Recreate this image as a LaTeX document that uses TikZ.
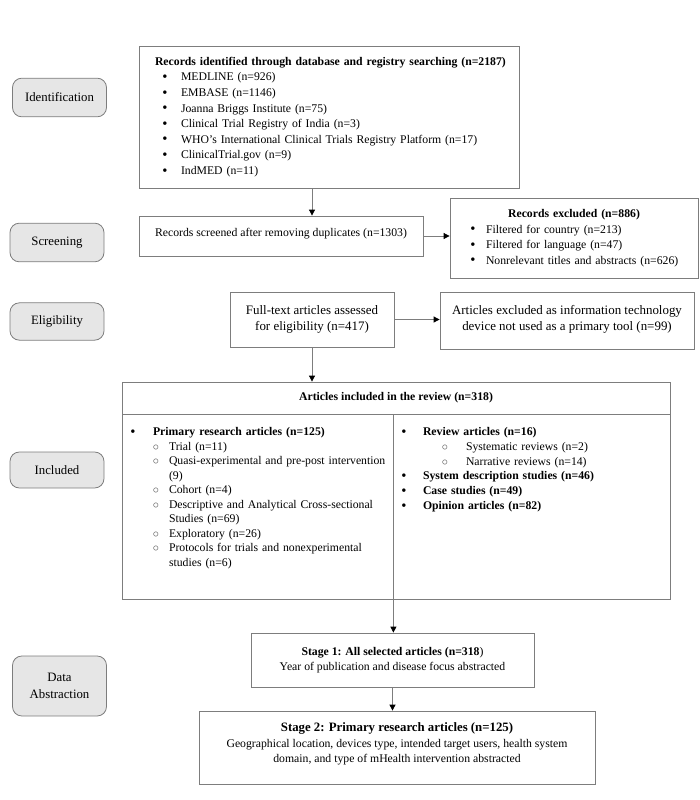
\documentclass[tikz,border=0pt]{standalone}
\usepackage{fontspec}
\setmainfont{Liberation Serif}
\usetikzlibrary{arrows.meta}
\definecolor{stagefill}{RGB}{230,230,230}
\definecolor{boxline}{RGB}{125,125,125}
\newcommand{\bu}[2]{\hspace*{#1}\makebox[0pt]{\raisebox{-0.4pt}{\fontsize{11}{11}\selectfont\textbullet}}\hspace*{#2}}
\newcommand{\ci}[2]{\hspace*{#1}\makebox[0pt]{\color{black!70}$\circ$}\hspace*{#2}}

\begin{document}
\begin{tikzpicture}[x=0.75pt,y=-0.75pt,
    arr/.style={draw=boxline, line width=0.6pt, -{Triangle[color=black,length=4.5pt,width=4.5pt]}}]
        \useasboundingbox (0,0) rectangle (700,800);

        % phases on the left
        \begin{scope}[every node/.style={rectangle,rounded corners=7pt,draw=boxline,line width=0.6pt,fill=stagefill,minimum width=70.5pt,align=center,font=\fontsize{9.6}{12.5}\selectfont}]
            \node[minimum height=29pt] (sIdent) at (59.5,97.5) {Identification};
            \node[minimum height=29pt] (sScreen) at (57,242.5) {Screening};
            \node[minimum height=28pt] (sElig) at (57,321.5) {Eligibility};
            \node[minimum height=27pt] (sIncl) at (57,470) {Included};
            \node[minimum height=45pt] (sAbstr) at (59.5,686) {Data\\Abstraction};
        \end{scope}

        % flow boxes
        \begin{scope}[every node/.style={rectangle,draw=boxline,line width=0.6pt,fill=white,inner sep=0pt,align=center,font=\fontsize{8.8}{11.5}\selectfont}]
            \node[minimum width=285pt, minimum height=106.5pt, text width=261pt, align=left, font=\fontsize{8.8}{11.7}\selectfont] (rec) at (329,117) {\mbox{\textbf{Records identified through database and registry searching (n=2187)}}\\
                \bu{7.5pt}{12pt}MEDLINE (n=926)\\
                \bu{7.5pt}{12pt}EMBASE (n=1146)\\
                \bu{7.5pt}{12pt}Joanna Briggs Institute (n=75)\\
                \bu{7.5pt}{12pt}Clinical Trial Registry of India (n=3)\\
                \bu{7.5pt}{12pt}WHO’s International Clinical Trials Registry Platform (n=17)\\
                \bu{7.5pt}{12pt}ClinicalTrial.gov (n=9)\\
                \bu{7.5pt}{12pt}IndMED (n=11)};
            \node[minimum width=213pt, minimum height=30pt, text depth=6pt] (scrd) at (281,236) {Records screened after removing duplicates (n=1303)};
            \node[minimum width=186pt, minimum height=60pt, text width=186pt, align=left, font=\fontsize{8.8}{11.6}\selectfont] (excl) at (574,238) {\makebox[\linewidth]{\textbf{Records excluded (n=886)}}\\
                \bu{17.25pt}{9.75pt}Filtered for country (n=213)\\
                \bu{17.25pt}{9.75pt}Filtered for language (n=47)\\
                \bu{17.25pt}{9.75pt}Nonrelevant titles and abstracts (n=626)};
            \node[minimum width=123pt, minimum height=41.25pt, font=\fontsize{9.7}{11.8}\selectfont] (full) at (312,319.5) {Full-text articles assessed\\for eligibility (n=417)};
            \node[minimum width=190.5pt, minimum height=42.75pt, font=\fontsize{9.7}{11.6}\selectfont, text depth=3.5pt] (artex) at (567,320.5) {Articles excluded as information technology\\device not used as a primary tool (n=99)};

            \node[minimum width=411pt, minimum height=24pt] (incl) at (396,398) {\textbf{Articles included in the review (n=318)}};
            \node[minimum width=203.25pt, minimum height=138.75pt] (primcell) at (257.5,506.5) {};
            \node[minimum width=207.75pt, minimum height=138.75pt] (othcell) at (531.5,506.5) {};
            \node[draw=none, fill=none, anchor=north west, inner ysep=10pt, text width=200pt, align=left, font=\fontsize{8.8}{10.9}\selectfont] (prim) at (primcell.north west) {\bu{8.25pt}{15pt}\textbf{Primary research articles (n=125)}\\
                \ci{25.5pt}{9.75pt}Trial (n=11)\\
                \ci{25.5pt}{9.75pt}Quasi-experimental and pre-post intervention\\
                \hspace*{35.25pt}(9)\\
                \ci{25.5pt}{9.75pt}Cohort (n=4)\\
                \ci{25.5pt}{9.75pt}Descriptive and Analytical Cross-sectional\\
                \hspace*{35.25pt}Studies (n=69)\\
                \ci{25.5pt}{9.75pt}Exploratory (n=26)\\
                \ci{25.5pt}{9.75pt}Protocols for trials and nonexperimental\\
                \hspace*{35.25pt}studies (n=6)};
            \node[draw=none, fill=none, anchor=north west, inner ysep=10pt, text width=205pt, align=left, font=\fontsize{8.8}{11.1}\selectfont] (oth) at (othcell.north west) {\bu{8.25pt}{14.25pt}\textbf{Review articles (n=16)}\\
                \ci{39pt}{15.75pt}Systematic reviews (n=2)\\
                \ci{39pt}{15.75pt}Narrative reviews (n=14)\\
                \bu{8.25pt}{14.25pt}\textbf{System description studies (n=46)}\\
                \bu{8.25pt}{14.25pt}\textbf{Case studies (n=49)}\\
                \bu{8.25pt}{14.25pt}\textbf{Opinion articles (n=82)}};

            \node[minimum width=212.25pt, minimum height=40.5pt] (stage1) at (392.5,660) {\textbf{Stage 1: All selected articles (n=318})\\Year of publication and disease focus abstracted};
            \node[minimum width=297pt, minimum height=54.75pt, text depth=7pt] (stage2) at (397,747.5) {{\fontsize{9.6}{11.5}\selectfont\textbf{Stage 2: Primary research articles (n=125)}}\\Geographical location, devices type, intended target users, health system\\domain, and type of mHealth intervention abstracted};
        \end{scope}

        % connectors
        \draw[arr] (rec.south -| full.north) -- (scrd.north -| full.north);
        \draw[arr] (scrd.east) -- (scrd.east -| excl.west);
        \draw[arr] (full.east) -- (full.east -| artex.west);
        \draw[arr] (full.south) -- (full.south |- incl.north);
        \draw[arr] (primcell.south east) -- (primcell.south east |- stage1.north);
        \draw[arr] (stage1.south) -- (stage1.south |- stage2.north);
    \end{tikzpicture}
\end{document}
